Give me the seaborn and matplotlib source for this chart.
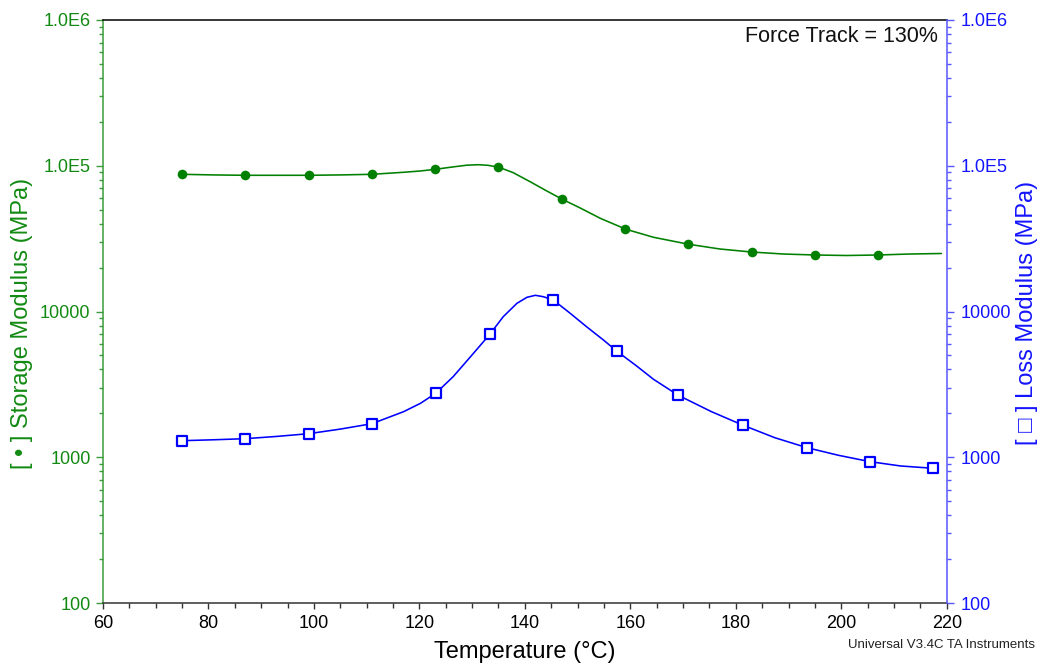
import matplotlib
matplotlib.use("Agg")
import matplotlib.pyplot as plt
import pandas as pd
import seaborn as sns
from matplotlib.ticker import FixedLocator, FixedFormatter, LogLocator, MultipleLocator, NullFormatter

# ---- Storage modulus E' (MPa) vs temperature (deg C) ----
storage_curve_temp = [75, 81, 87, 93, 99, 105, 111, 117, 120.1, 123, 126.5, 129, 131.2, 133,
                      135.1, 137.8, 141, 144.1, 147.1, 150.5, 154.3, 159.2, 164.4, 171.1,
                      177, 183, 189, 195, 201, 207, 213, 219]
storage_curve_mpa = [87350, 86500, 86000, 86000, 86000, 86500, 87350, 90190, 92000, 94540,
                     98300, 100880, 101670, 100700, 97590, 89610, 77730, 67300, 58860,
                     51300, 43600, 36640, 32300, 28910, 26840, 25590, 24800, 24420, 24220,
                     24420, 24800, 25000]
storage_mark_temp = [75, 87, 99, 111, 123, 135, 147, 159, 171, 183, 195, 207]
storage_mark_mpa = [87350, 86000, 86000, 87350, 94540, 97590, 58860, 36640, 28910,
                    25590, 24420, 24420]

# ---- Loss modulus E'' (MPa) vs temperature (deg C) ----
loss_curve_temp = [75, 81, 87, 93, 99, 105, 111, 117, 120.2, 123.1, 126.4, 129.6, 131.5,
                   133.4, 135.9, 138.5, 140.4, 142, 143.5, 145.4, 148.6, 151.7, 154.9,
                   157.4, 161.2, 164.4, 169.1, 175.4, 181.4, 187.4, 193.5, 199.5, 205.5,
                   211.3, 217.4]
loss_curve_mpa = [1299, 1318, 1341, 1390, 1451, 1560, 1699, 2054, 2344, 2747, 3570, 4850,
                  5827, 7008, 9211, 11380, 12515, 12915, 12635, 11990, 9718, 7865, 6376,
                  5358, 4228, 3426, 2661, 2054, 1657, 1362, 1163, 1031, 932, 871, 840]
loss_mark_temp = [75, 87, 99, 111, 123.1, 133.4, 145.4, 157.4, 169.1, 181.4, 193.5, 205.5, 217.4]
loss_mark_mpa = [1299, 1341, 1451, 1699, 2747, 7008, 11990, 5358, 2661, 1657, 1163, 932, 840]

# ---- axis ticks ----
x_ticks = [60, 80, 100, 120, 140, 160, 180, 200, 220]
y_tick_values = [100, 1000, 10000, 100000, 1000000]
y_tick_labels = ["100", "1000", "10000", "1.0E5", "1.0E6"]

GREEN = "#008000"
GREEN_TXT = "#128a12"
GREEN_SPINE = "#3c9c3c"
BLUE = "#0000ff"
BLUE_TXT = "#1414ff"
BLUE_SPINE = "#5555ff"

sns.set_style("ticks")
plt.rcParams["font.family"] = ["Liberation Sans", "DejaVu Sans"]

W, H = 1042, 669
fig = plt.figure(figsize=(W / 100, H / 100), dpi=100)
left_px, right_px, top_px, bot_px = 103, 946.7, 20, 603
ax = fig.add_axes([left_px / W, 1 - bot_px / H, (right_px - left_px) / W, (bot_px - top_px) / H])
ax2 = ax.twinx()

for a in (ax, ax2):
    a.set_yscale("log")
    a.set_ylim(100, 1e6)
    a.set_xlim(60, 220)
    a.yaxis.set_major_locator(FixedLocator(y_tick_values))
    a.yaxis.set_major_formatter(FixedFormatter(y_tick_labels))
    a.yaxis.set_minor_locator(LogLocator(base=10, subs=range(2, 10)))
    a.yaxis.set_minor_formatter(NullFormatter())

ax.xaxis.set_major_locator(FixedLocator(x_ticks))
ax.xaxis.set_minor_locator(MultipleLocator(5))

storage_curve = pd.DataFrame({"temp": storage_curve_temp, "mod": storage_curve_mpa})
storage_mark = pd.DataFrame({"temp": storage_mark_temp, "mod": storage_mark_mpa})
loss_curve = pd.DataFrame({"temp": loss_curve_temp, "mod": loss_curve_mpa})
loss_mark = pd.DataFrame({"temp": loss_mark_temp, "mod": loss_mark_mpa})

sns.lineplot(data=storage_curve, x="temp", y="mod", ax=ax, color=GREEN, lw=1.15,
             estimator=None, solid_joinstyle="round", solid_capstyle="round")
sns.scatterplot(data=storage_mark, x="temp", y="mod", ax=ax, color=GREEN, marker="o",
                s=48, edgecolor=GREEN, linewidth=0, zorder=3)
sns.lineplot(data=loss_curve, x="temp", y="mod", ax=ax2, color=BLUE, lw=1.15,
             estimator=None, solid_joinstyle="round", solid_capstyle="round")
sns.scatterplot(data=loss_mark, x="temp", y="mod", ax=ax2, marker="s", s=50,
                facecolor="white", edgecolor=BLUE, linewidth=1.6, zorder=3)

ax.set_xlabel("")
ax.set_ylabel("")
ax2.set_ylabel("")

# spines
ax.spines["right"].set_visible(False)
ax2.spines["left"].set_visible(False)
for s in ("top", "bottom"):
    ax2.spines[s].set_visible(False)
ax.spines["top"].set_visible(True)
ax.spines["top"].set_color("black")
ax.spines["bottom"].set_color("#333333")
ax.spines["left"].set_color(GREEN_SPINE)
ax2.spines["right"].set_visible(True)
ax2.spines["right"].set_color(BLUE_SPINE)
for sp in list(ax.spines.values()) + list(ax2.spines.values()):
    sp.set_linewidth(1.1)

ax.tick_params(axis="x", which="major", direction="out", length=4, width=1,
               color="#333333", labelsize=13, labelcolor="black", pad=5)
ax.tick_params(axis="x", which="minor", direction="out", length=3.5, width=1, color="#333333")
ax.tick_params(axis="y", which="major", direction="out", length=5, width=1,
               color=GREEN_SPINE, labelcolor=GREEN_TXT, labelsize=13, pad=4)
ax.tick_params(axis="y", which="minor", direction="out", length=3, width=1, color=GREEN_SPINE)
ax2.tick_params(axis="y", which="major", direction="out", length=5, width=1,
                color=BLUE_SPINE, labelcolor=BLUE_TXT, labelsize=13, pad=5)
ax2.tick_params(axis="y", which="minor", direction="out", length=3, width=1, color=BLUE_SPINE)

# axis titles
fig.text(525 / W, 1 - 652 / H, "Temperature (°C)", ha="center", va="center",
         fontsize=17, color="black")
fig.text(22 / W, 1 - 323 / H, "[ \u2022 ] Storage Modulus (MPa)", ha="center", va="center",
         rotation=90, fontsize=17, color=GREEN_TXT)
fig.text(1027 / W, 1 - 313 / H, "[ \u25a1 ] Loss Modulus (MPa)", ha="center", va="center",
         rotation=90, fontsize=17, color=BLUE_TXT,
         family=["Liberation Sans", "DejaVu Sans"])

fig.text(938 / W, 1 - 36 / H, "Force Track = 130%", ha="right", va="center",
         fontsize=15.5, color="#111111")
fig.text(1035 / W, 1 - 645 / H, "Universal V3.4C TA Instruments", ha="right", va="center",
         fontsize=9.5, color="#222222")

fig.savefig("out.png", dpi=100)
